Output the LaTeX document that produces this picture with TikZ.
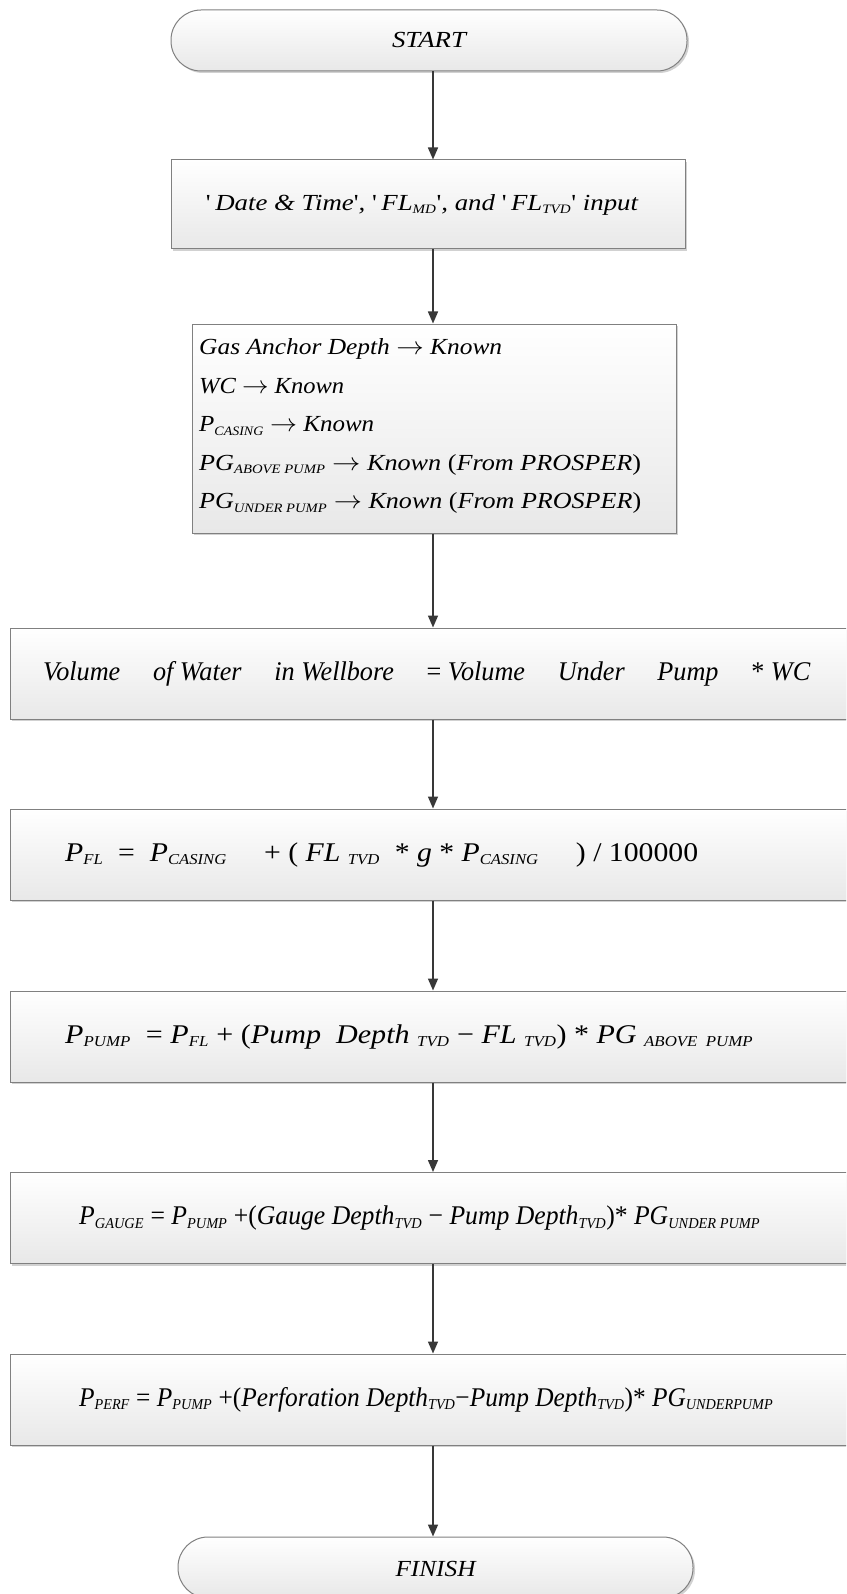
\documentclass[tikz,border=0pt]{standalone}
\usepackage{fontspec}
\setmainfont{Liberation Serif}
\usepackage{graphicx}
\usetikzlibrary{arrows.meta,shadows}
% small subscript used throughout the formulas
\newcommand\sbs[1]{\textsubscript{\scalebox{0.8}{#1}}}
% stretch or squeeze a line horizontally to a given width, keeping its height
\newcommand\fitw[2]{\resizebox{#1}{\height}{#2}}
% straight single quote
\newcommand\sq{{\upshape\textquotesingle}}
\begin{document}
\begin{tikzpicture}[x=1pt,y=-1pt,
  box/.style={draw=black!50, line width=1pt, top color=white, bottom color=black!9,
    drop shadow={shadow xshift=2pt,shadow yshift=-2pt,opacity=0.3,fill=black!60},
    inner sep=0pt},
  term/.style={box, rounded corners=30pt, minimum width=516pt, minimum height=61pt},
  wide/.style={box, minimum width=846pt, minimum height=91pt},
  arr/.style={draw=black!78, line width=1.5pt, -{Triangle[length=12pt,width=10pt]}},
  lbl/.style={font=\fontsize{23}{27}\selectfont\itshape, inner sep=0pt},
  eq/.style={lbl, font=\fontsize{27}{31}\selectfont\itshape, anchor=west}]
\useasboundingbox (0,0) rectangle (846,1594);
\clip (0,0) rectangle (846,1594);
\coordinate (col) at (433,0);

% terminals and process boxes
\node[term] (start) at (429,40.5) {};
\node[lbl] (tstart) at (start) {\fitw{74pt}{START}};

\node[box, minimum width=514pt, minimum height=89pt] (b2) at (428,204.5) {};
\node[lbl] (t2) at (422,204.5) {\fitw{432pt}{\sq\,Date \& Time\sq, \sq\,FL\sbs{MD}\sq, and \sq\,FL\sbs{TVD}\sq\ input}};

\node[box, minimum width=484pt, minimum height=209pt] (b3) at (434,428.5) {};
\node[lbl, anchor=west, align=left, font=\fontsize{23}{38.5}\selectfont\itshape] (t3) at (199,426)
  {\fitw{303pt}{Gas Anchor Depth $\rightarrow$ Known}\\
   \fitw{145pt}{WC $\rightarrow$ Known}\\
   \fitw{175pt}{P\sbs{CASING} $\rightarrow$ Known}\\
   \fitw{442pt}{PG\sbs{ABOVE PUMP} $\rightarrow$ Known {\upshape(}From PROSPER{\upshape)}}\\
   \fitw{442pt}{PG\sbs{UNDER PUMP} $\rightarrow$ Known {\upshape(}From PROSPER{\upshape)}}};

\node[wide] (b4) at (433,673.5) {};
\node[eq] (t4) at (43,673.5) {\fitw{767pt}{Volume \quad of Water \quad in Wellbore \quad {\upshape=} Volume \quad Under \quad Pump \quad {\upshape*} WC}};

\node[wide] (b5) at (433,854.5) {};
\node[eq] (t5) at (65,854.5) {\fitw{633pt}{P\sbs{FL} \ {\upshape=} \ P\sbs{CASING} \quad {\upshape+ (} FL \sbs{TVD} \ {\upshape*} g {\upshape*} P\sbs{CASING} \quad {\upshape) / 100000}}};

\node[wide] (b6) at (433,1036.5) {};
\node[eq] (t6) at (65,1036.5) {\fitw{688pt}{P\sbs{PUMP} \ {\upshape= }P\sbs{FL} {\upshape + (}Pump \ Depth \sbs{TVD} {\upshape −} FL \sbs{TVD}{\upshape ) *} PG \sbs{ABOVE \ PUMP}}};

\node[wide] (b7) at (433,1218) {};
\node[eq] (t7) at (79,1218) {\fitw{681pt}{P\sbs{GAUGE} {\upshape=} P\sbs{PUMP} {\upshape+(}Gauge Depth\sbs{TVD} {\upshape−} Pump Depth\sbs{TVD}{\upshape)*} PG\sbs{UNDER PUMP}}};

\node[wide] (b8) at (433,1399.5) {};
\node[eq] (t8) at (79,1399.5) {\fitw{694pt}{P\sbs{PERF} {\upshape=} P\sbs{PUMP} {\upshape+(}Perforation Depth\sbs{TVD}{\upshape−}Pump Depth\sbs{TVD}{\upshape)*} PG\sbs{UNDERPUMP}}};

\node[term, minimum width=515pt] (finish) at (435.5,1567.5) {};
\node[lbl] (tfinish) at (435.5,1569) {\fitw{80pt}{FINISH}};

% connectors down the middle column
\draw[arr] (start.south -| col) -- (b2.north -| col);
\draw[arr] (b2.south -| col) -- (b3.north -| col);
\draw[arr] (b3.south -| col) -- (b4.north -| col);
\draw[arr] (b4.south -| col) -- (b5.north -| col);
\draw[arr] (b5.south -| col) -- (b6.north -| col);
\draw[arr] (b6.south -| col) -- (b7.north -| col);
\draw[arr] (b7.south -| col) -- (b8.north -| col);
\draw[arr] (b8.south -| col) -- (finish.north -| col);
\end{tikzpicture}
\end{document}
